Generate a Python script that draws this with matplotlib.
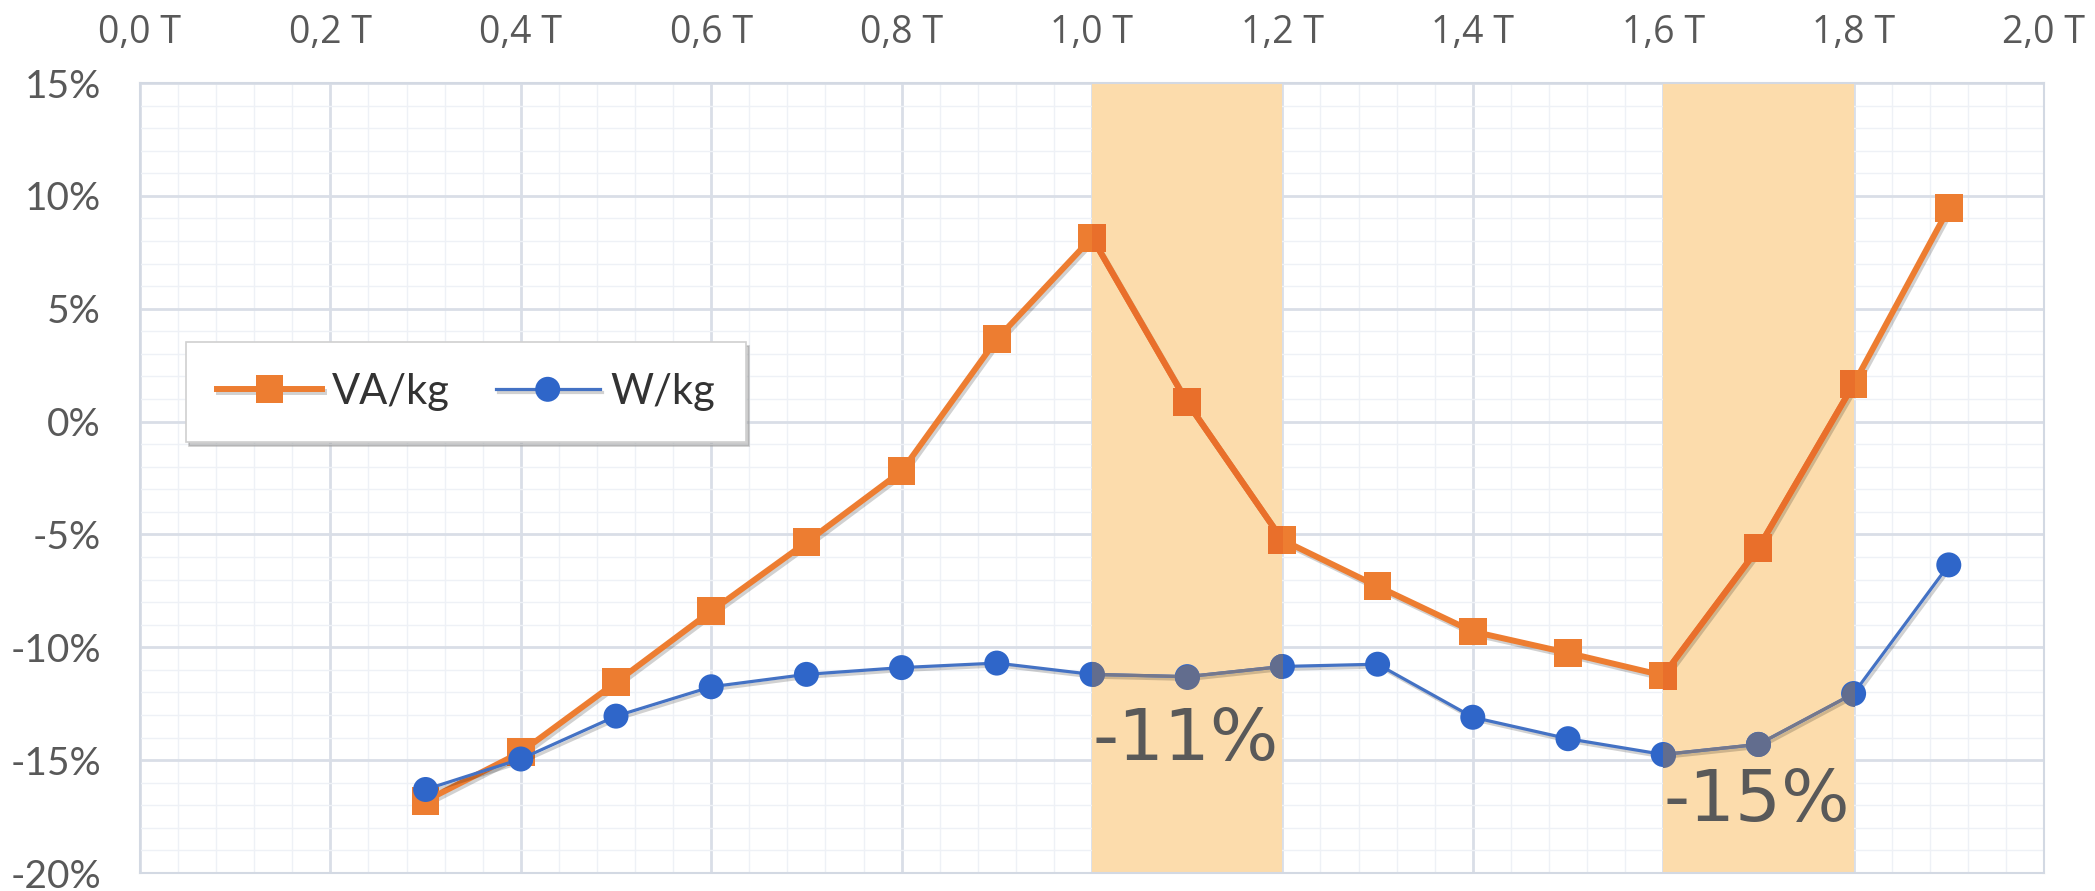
import numpy as np
import matplotlib
matplotlib.use("Agg")
import matplotlib.pyplot as plt
import matplotlib.patheffects as pe
from matplotlib.patches import Rectangle
from matplotlib.ticker import MultipleLocator

# Flux density (T) and relative change (%)
induction = [0.3, 0.4, 0.5, 0.6, 0.7, 0.8, 0.9, 1.0, 1.1, 1.2,
             1.3, 1.4, 1.5, 1.6, 1.7, 1.8, 1.9]
va_per_kg = [-16.8, -14.65, -11.55, -8.4, -5.35, -2.2, 3.65, 8.15, 0.85, -5.25,
             -7.3, -9.3, -10.25, -11.25, -5.6, 1.65, 9.45]
w_per_kg = [-16.3, -14.95, -13.05, -11.75, -11.2, -10.9, -10.7, -11.2, -11.3, -10.85,
            -10.75, -13.1, -14.05, -14.75, -14.3, -12.05, -6.35]

x_ticks = [0.0, 0.2, 0.4, 0.6, 0.8, 1.0, 1.2, 1.4, 1.6, 1.8, 2.0]
x_tick_labels = ["0,0 T", "0,2 T", "0,4 T", "0,6 T", "0,8 T", "1,0 T",
                 "1,2 T", "1,4 T", "1,6 T", "1,8 T", "2,0 T"]
y_ticks = [-20, -15, -10, -5, 0, 5, 10, 15]
y_tick_labels = ["-20%", "-15%", "-10%", "-5%", "0%", "5%", "10%", "15%"]

bands = [(1.0, 1.2), (1.6, 1.8)]
band_notes = [(1.0, -15.0, "-11%"), (1.6, -17.7, "-15%")]

ORANGE = "#ED7D31"
BLUE = "#4472C4"
BLUE_MK = "#2F66C9"
BAND = (252 / 255, 220 / 255, 172 / 255)
TXT = "#595959"

# colours of the series where they cross a highlighted band
IN_BAND = {"orange": "#E96F2B", "blue_line": "#75788C", "blue_mk": "#626D8E"}


W, H = 2095, 891
fig = plt.figure(figsize=(W / 100, H / 100), dpi=100)
ax = fig.add_axes([140 / W, 1 - 873 / H, 1904 / W, 790 / H])
ax.set_xlim(0, 2.0)
ax.set_ylim(-20, 15)

# grid
ax.xaxis.set_minor_locator(MultipleLocator(0.04))
ax.yaxis.set_minor_locator(MultipleLocator(1))
ax.grid(which="minor", color="#EEF1F6", lw=1.0, zorder=0)
ax.grid(which="major", color="#D9DEE7", lw=2.0, zorder=0)
ax.set_axisbelow(True)
for s in ax.spines.values():
    s.set_color("#D3D9E3")
    s.set_linewidth(1.5)

ax.set_xticks(x_ticks)
ax.set_xticklabels(x_tick_labels, family="Open Sans", fontsize=27, color=TXT)
ax.set_yticks(y_ticks)
ax.set_yticklabels(y_tick_labels, family="Lato", fontsize=28, color=TXT)
ax.tick_params(axis="x", which="both", top=True, bottom=False, labeltop=True,
               labelbottom=False, length=0, pad=22)
ax.tick_params(axis="y", which="both", length=0, pad=28)

# highlighted bands
for x0, x1 in bands:
    ax.axvspan(x0, x1, color=BAND, lw=0, zorder=1)

shadow = [pe.SimpleLineShadow(offset=(1.5, -2), shadow_color="#000000", alpha=0.18),
          pe.Normal()]

va_line, = ax.plot(induction, va_per_kg, color=ORANGE, lw=4.3, marker="s",
                   markersize=20, markeredgewidth=0, zorder=4,
                   path_effects=shadow, label="VA/kg")
w_line, = ax.plot(induction, w_per_kg, color=BLUE, lw=2.3, marker="o",
                  markersize=18, markeredgewidth=0, markerfacecolor=BLUE_MK,
                  zorder=4, path_effects=shadow, label="W/kg")

# line parts inside the bands are tinted by the band colour
for x0, x1 in bands:
    for yv, col, mcol, lw, mk, ms in [
            (va_per_kg, IN_BAND["orange"], IN_BAND["orange"], 4.3, "s", 20),
            (w_per_kg, IN_BAND["blue_line"], IN_BAND["blue_mk"], 2.3, "o", 18)]:
        ln, = ax.plot(induction, yv, color=col, lw=lw, marker=mk,
                      markersize=ms, markeredgewidth=0,
                      markerfacecolor=mcol, zorder=5)
        clip = Rectangle((x0, -20), x1 - x0, 35, transform=ax.transData)
        ln.set_clip_path(clip)

for xx, yy, t in band_notes:
    ax.text(xx, yy, t, ha="left", va="baseline", fontsize=52, color=TXT,
            family="DejaVu Sans", zorder=6)

leg = ax.legend(handles=[va_line, w_line], loc="center",
                bbox_to_anchor=(0.0223, 0.533, 0.298, 0.152), ncol=2,
                prop={"family": "Lato", "size": 30}, frameon=True,
                fancybox=False, framealpha=1, edgecolor="#D0D0D0",
                borderpad=0.75, handlelength=2.5, handletextpad=0.25,
                columnspacing=1.1,
                shadow={"color": "#9A9A9A", "alpha": 0.5, "ox": 2, "oy": -3})
leg.get_frame().set_linewidth(1.2)
for t in leg.get_texts():
    t.set_color("#333333")
leg.set_zorder(7)

fig.savefig("out.png", dpi=100)
